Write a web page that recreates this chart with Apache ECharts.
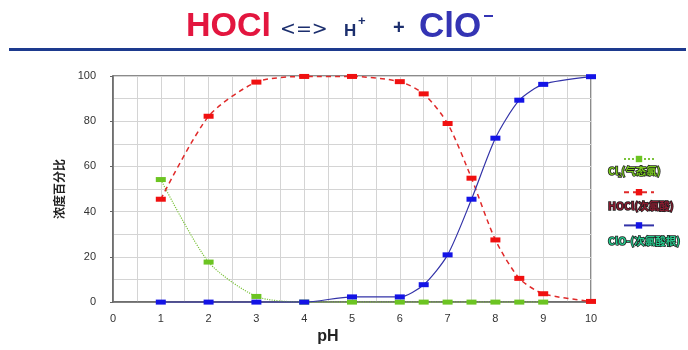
<!DOCTYPE html>
<html>
<head>
<meta charset="utf-8">
<script src="https://cdn.jsdelivr.net/npm/echarts@6/dist/echarts.min.js"></script>
<style>
  html, body { margin: 0; padding: 0; background: #fff; }
  #chart { width: 688px; height: 350px; }
</style>
</head>
<body>
<div id="chart"></div>
<script>
// pH 值与各组分浓度百分比
const phValues = [1, 2, 3, 4, 5, 6, 6.5, 7, 7.5, 8, 8.5, 9, 10];
const cl2Values = [54.2, 17.7, 2.5, 0, 0, 0, 0, 0, 0, 0, 0, 0, null];
const hoclValues = [45.5, 82.2, 97.3, 99.8, 99.8, 97.5, 92.1, 79, 54.8, 27.5, 10.5, 3.7, 0.3];
const cloValues = [0, 0, 0, 0, 2.3, 2.3, 7.7, 20.9, 45.5, 72.5, 89.3, 96.3, 99.7];
const seriesNames = ['Cl₂(气态氯)', 'HOCl(次氯酸)', 'ClO-(次氯酸根)'];

const toPairs = vals => phValues.map((x, i) => [x, vals[i]]);

const chart = echarts.init(document.getElementById('chart'));

const legendText = (name, color) => ({
  name,
  textStyle: { color, textBorderColor: '#1e1e1e', textBorderWidth: 1.5 }
});

const option = {
  animation: false,
  graphic: [
    { type: 'rect', shape: { x: 9, y: 48, width: 677, height: 3 }, style: { fill: '#1d3a8e' } },
    { type: 'text', x: 186, y: 27, style: { text: 'HOCl', font: 'bold 34px "Liberation Sans"', fill: '#e3163f', verticalAlign: 'middle' } },
    { type: 'text', x: 280, y: 30, style: { text: '<=>', font: '19px "DejaVu Sans"', fill: '#1c2f6e', verticalAlign: 'middle' } },
    { type: 'text', x: 344, y: 31, style: { text: 'H', font: 'bold 17px "Liberation Sans"', fill: '#1c2f6e', verticalAlign: 'middle' } },
    { type: 'text', x: 358, y: 21, style: { text: '+', font: 'bold 13px "Liberation Sans"', fill: '#1c2f6e', verticalAlign: 'middle' } },
    { type: 'text', x: 393, y: 28, style: { text: '+', font: 'bold 20px "Liberation Sans"', fill: '#1c2f6e', verticalAlign: 'middle' } },
    { type: 'text', x: 419, y: 27, style: { text: 'ClO', font: 'bold 35px "Liberation Sans"', fill: '#3434b4', verticalAlign: 'middle' } },
    { type: 'rect', shape: { x: 484, y: 15, width: 9, height: 2 }, style: { fill: '#3434b4' } }
  ],
  grid: {
    left: 113, right: 97, top: 76, bottom: 46,
    show: true, borderColor: '#666', borderWidth: 1.5
  },
  legend: [
    {
      orient: 'vertical', left: 618, top: 150,
      itemWidth: 30, itemHeight: 8, itemGap: 26,
      formatter: () => '',
      data: seriesNames
    },
    {
      orient: 'vertical', left: 598, top: 160,
      icon: 'none', itemWidth: 0, itemHeight: 12, itemGap: 23,
      textStyle: { fontSize: 10.5, fontWeight: 'bold', fontFamily: '"Noto Sans CJK SC"' },
      data: [
        legendText(seriesNames[0], '#7acb1f'),
        legendText(seriesNames[1], '#8a1c30'),
        legendText(seriesNames[2], '#25c98c')
      ]
    }
  ],
  xAxis: {
    type: 'value', min: 0, max: 10, interval: 1,
    name: 'pH', nameLocation: 'middle', nameGap: 21,
    nameTextStyle: { fontSize: 16, fontWeight: 'bold', color: '#222', padding: [0, 48, 0, 0] },
    axisLine: { show: true, lineStyle: { color: '#666', width: 1.5 } },
    axisTick: { show: false },
    axisLabel: { margin: 11, fontSize: 11, color: '#333' },
    splitLine: { show: true, lineStyle: { color: '#d4d4d4' } },
    minorTick: { show: false, splitNumber: 2 },
    minorSplitLine: { show: true, lineStyle: { color: '#d4d4d4' } }
  },
  yAxis: {
    type: 'value', min: 0, max: 100, interval: 20,
    name: '浓度百分比', nameLocation: 'middle', nameGap: 48,
    nameTextStyle: { fontSize: 12, fontWeight: 'bold', color: '#222', fontFamily: '"Noto Sans CJK SC"' },
    axisLine: { show: true, lineStyle: { color: '#666', width: 1.5 } },
    axisTick: { show: true, length: 3, lineStyle: { color: '#666' } },
    axisLabel: { margin: 17, fontSize: 11, color: '#333' },
    splitLine: { show: true, lineStyle: { color: '#d4d4d4' } },
    minorTick: { show: false, splitNumber: 2 },
    minorSplitLine: { show: true, lineStyle: { color: '#d4d4d4' } }
  },
  series: [
    {
      name: seriesNames[0], type: 'line', smooth: 0.25,
      data: toPairs(cl2Values),
      symbol: 'rect', symbolSize: [10, 5],
      itemStyle: { color: '#6cc422' },
      lineStyle: { color: '#7cc33c', width: 1.2, type: 'dotted' }
    },
    {
      name: seriesNames[1], type: 'line', smooth: 0.25,
      data: toPairs(hoclValues),
      symbol: 'rect', symbolSize: [10, 5],
      itemStyle: { color: '#f01010' },
      lineStyle: { color: '#e02a2a', width: 1.5, type: [5, 4] }
    },
    {
      name: seriesNames[2], type: 'line', smooth: 0.25,
      data: toPairs(cloValues),
      symbol: 'rect', symbolSize: [10, 5],
      itemStyle: { color: '#1414e6' },
      lineStyle: { color: '#3333a8', width: 1.2 }
    }
  ]
};

chart.setOption(option);
</script>
</body>
</html>
